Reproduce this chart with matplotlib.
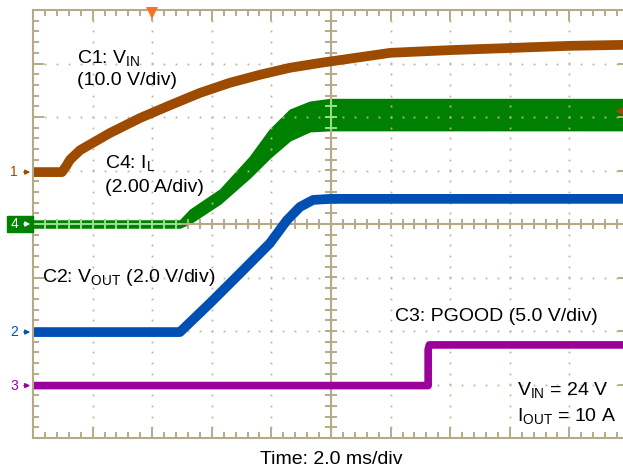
import numpy as np
import matplotlib
matplotlib.use("Agg")
import matplotlib.pyplot as plt
from matplotlib.ticker import MultipleLocator

plt.rcParams["font.family"] = ["Liberation Sans", "DejaVu Sans"]
plt.rcParams["mathtext.fontset"] = "custom"
plt.rcParams["mathtext.rm"] = "Liberation Sans"
plt.rcParams["mathtext.it"] = "Liberation Sans"

# time in ms (2 ms/div), traces in screen divisions from centre
# C1 - VIN
c1_t = [0, 0.97, 1.11, 1.24, 1.58, 2.58, 3.59, 4.60, 5.60, 6.61, 7.62, 8.62, 9.63,
        12.0, 14.0, 16.0, 18.0, 20.0]
c1_y = [0.97, 0.97, 1.08, 1.20, 1.38, 1.70, 1.98, 2.22, 2.45, 2.64, 2.79, 2.92, 3.01,
        3.2, 3.25, 3.29, 3.33, 3.35]

# C2 - VOUT
c2_t = [0, 4.93, 5.94, 6.95, 7.95, 8.52, 8.96, 9.40, 9.97, 20.0]
c2_y = [-2.02, -2.02, -1.48, -0.92, -0.36, 0.07, 0.32, 0.45, 0.47, 0.47]

# C4 - IL, ripple envelope (top / bottom)
c4_t = [0, 4.93, 5.27, 6.28, 7.28, 7.95, 8.62, 9.29, 9.97, 20.0]
c4_top = [0.06, 0.06, 0.26, 0.64, 1.25, 1.76, 2.13, 2.28, 2.33, 2.33]
c4_bot = [-0.06, -0.06, 0.02, 0.39, 0.88, 1.25, 1.57, 1.74, 1.76, 1.76]

# C3 - PGOOD
c3_t = [0, 13.26, 13.26, 13.3, 20.0]
c3_y = [-3.02, -3.02, -2.35, -2.26, -2.26]

brown = "#9c4b00"
green = "#008000"
blue = "#0050b4"
purple = "#9b009b"
tan = "#b5aa88"

fig = plt.figure(figsize=(6.23, 4.72), dpi=100)
ax = fig.add_axes([33 / 623, 34 / 472, 596 / 623, 428 / 472])
ax.set_xlim(0, 20)
ax.set_ylim(-4, 4)

# graticule: dotted grid
for gx in np.arange(2, 20, 2):
    yy = np.arange(-4, 4.01, 0.2)
    ax.plot(np.full_like(yy, gx), yy, ls="none", marker="s", ms=1.3, mew=0, color="#bdb59c")
for gy in np.arange(-3, 4, 1):
    xx = np.arange(0, 20.01, 0.4)
    ax.plot(xx, np.full_like(xx, gy), ls="none", marker="s", ms=1.3, mew=0, color="#bdb59c")

# centre crosshair with ticks
ax.axhline(0, color=tan, lw=1.5)
ax.axvline(10, color=tan, lw=1.5)
xt = np.arange(0, 20.01, 0.4)
ax.plot(xt, np.zeros_like(xt), ls="none", marker="|", ms=7, mew=1.4, color=tan)
yt = np.arange(-4, 4.01, 0.2)
ax.plot(np.full_like(yt, 10), yt, ls="none", marker="_", ms=8, mew=1.4, color=tan)

# traces
ax.plot(c1_t, c1_y, color=brown, lw=7, solid_capstyle="butt", solid_joinstyle="round")
ax.fill_between(c4_t, c4_bot, c4_top, color=green, lw=1.5, edgecolor=green)
ax.plot(c2_t, c2_y, color=blue, lw=7, solid_capstyle="butt", solid_joinstyle="round")
ax.plot(c3_t, c3_y, color=purple, lw=5.5, solid_capstyle="butt")

# crosshair seen through the IL trace
ax.plot([0, 4.93], [0, 0], color="#8ee88e", lw=1.2)
xg = np.arange(0, 4.93, 0.4)
ax.plot(xg, np.zeros_like(xg), ls="none", marker="|", ms=7, mew=1.2, color="#8ee88e")
ax.plot([10, 10], [1.78, 2.31], color="#8ee88e", lw=1.2)
yg = np.arange(1.8, 2.31, 0.2)
ax.plot(np.full_like(yg, 10), yg, ls="none", marker="_", ms=8, mew=1.2, color="#8ee88e")

# border
for s in ["top", "bottom", "left", "right"]:
    ax.spines[s].set_color(tan)
    ax.spines[s].set_linewidth(1.5)
ax.xaxis.set_major_locator(MultipleLocator(2))
ax.xaxis.set_minor_locator(MultipleLocator(0.4))
ax.yaxis.set_major_locator(MultipleLocator(1))
ax.yaxis.set_minor_locator(MultipleLocator(0.2))
ax.tick_params(which="both", direction="in", top=True, bottom=True, left=True, right=True,
               color=tan, width=1.4, labelbottom=False, labelleft=False)
ax.tick_params(which="major", length=8)
ax.tick_params(which="minor", length=4)

# trigger markers
ax.plot([4.0], [3.95], marker="v", ms=8, color="#ff7020", mew=0, clip_on=False, zorder=5)
ax.annotate("", xy=(19.45, 2.11), xytext=(20.0, 2.11),
            arrowprops=dict(arrowstyle="-|>", color=brown, lw=1.2, mutation_scale=10))

# channel ground markers
ch_marks = [("1", 0.97, brown), ("2", -2.02, blue), ("3", -3.02, purple)]
for lab, yv, col in ch_marks:
    ax.annotate("", xy=(0, yv), xycoords="data", xytext=(-0.4, yv),
                arrowprops=dict(arrowstyle="-|>", color=col, lw=1, mutation_scale=7),
                annotation_clip=False)
    ax.text(-0.5, yv, lab, color=col, fontsize=10, ha="right", va="center", clip_on=False)

ax.add_patch(plt.Rectangle((-0.87, -0.15), 0.87, 0.3, color=green, clip_on=False, zorder=4))
ax.text(-0.5, 0, "4", color="white", fontsize=10, ha="right", va="center", zorder=5, clip_on=False)
ax.annotate("", xy=(0, 0), xytext=(-0.4, 0),
            arrowprops=dict(arrowstyle="-|>", color="white", lw=1, mutation_scale=7),
            annotation_clip=False, zorder=5)

# labels
fs = 14
ax.text(1.48, 3.01, r"C1: V$_\mathrm{IN}$", fontsize=fs, va="baseline")
ax.text(1.48, 2.60, "(10.0 V/div)", fontsize=fs, va="baseline")
ax.text(2.42, 1.05, r"C4: I$_\mathrm{L}$", fontsize=fs, va="baseline")
ax.text(2.42, 0.60, "(2.00 A/div)", fontsize=fs, va="baseline")
ax.text(0.30, -1.08, r"C2: V$_\mathrm{OUT}$ (2.0 V/div)", fontsize=fs, va="baseline")
ax.text(12.15, -1.81, "C3: PGOOD (5.0 V/div)", fontsize=fs, va="baseline")
ax.text(16.24, -3.20, r"V$_\mathrm{IN}$ = 24 V", fontsize=fs, va="baseline")
ax.text(16.24, -3.68, r"I$_\mathrm{OUT}$ = 10 A", fontsize=fs, va="baseline")

fig.text(331 / 623, 1 - 460 / 472, "Time: 2.0 ms/div", fontsize=fs, ha="center", va="center")

fig.savefig("out.png", dpi=100)
